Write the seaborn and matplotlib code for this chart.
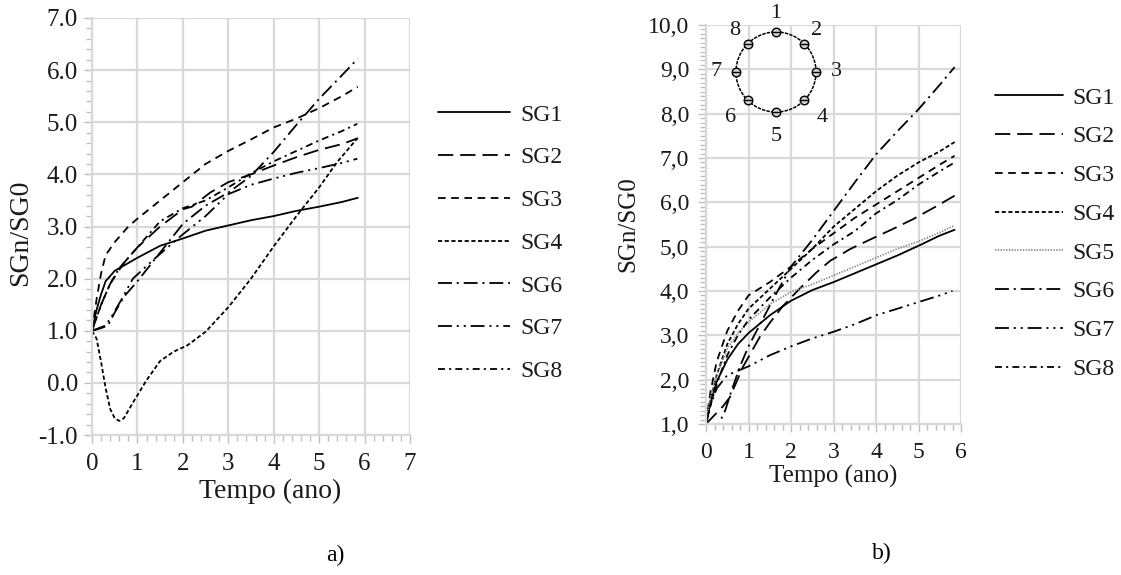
import numpy as np
import pandas as pd
import matplotlib
matplotlib.use("Agg")
import matplotlib.pyplot as plt
from matplotlib.ticker import MultipleLocator, FuncFormatter
import seaborn as sns

# ---------------- panel a) data ----------------
a_sg1_x = [0, 0.1, 0.2, 0.3, 0.5, 0.8, 1.0, 1.5, 2.0, 2.5, 3.0, 3.5, 4.0, 4.5, 5.0, 5.5, 5.85]
a_sg1_y = [1, 1.4, 1.7, 1.95, 2.15, 2.3, 2.4, 2.63, 2.77, 2.92, 3.02, 3.12, 3.2, 3.3, 3.38, 3.47, 3.55]
a_sg2_x = [0, 0.2, 0.4, 0.7, 1.0, 1.5, 2.0, 2.2, 2.6, 3.0, 3.5, 4.0, 4.5, 5.0, 5.5, 5.84]
a_sg2_y = [1, 1.5, 1.9, 2.3, 2.6, 3.0, 3.33, 3.38, 3.65, 3.85, 4.0, 4.17, 4.33, 4.47, 4.58, 4.69]
a_sg3_x = [0, 0.1, 0.2, 0.3, 0.5, 0.8, 1.0, 1.5, 2.0, 2.5, 3.0, 3.5, 4.0, 4.5, 5.0, 5.5, 5.85]
a_sg3_y = [1, 1.6, 2.1, 2.45, 2.7, 3.0, 3.15, 3.5, 3.85, 4.2, 4.45, 4.67, 4.9, 5.07, 5.27, 5.5, 5.68]
a_sg4_x = [0, 0.1, 0.2, 0.3, 0.4, 0.5, 0.6, 0.7, 0.9, 1.2, 1.5, 1.8, 2.1, 2.5, 3.0, 3.5, 4.0, 4.5, 5.0, 5.4, 5.85]
a_sg4_y = [1, 0.85, 0.4, -0.1, -0.5, -0.68, -0.73, -0.68, -0.38, 0.05, 0.42, 0.6, 0.72, 0.98, 1.45, 2.0, 2.62, 3.2, 3.75, 4.24, 4.7]
a_sg6_x = [0, 0.2, 0.35, 0.5, 0.7, 1.0, 1.5, 2.0, 2.5, 3.0, 3.5, 4.0, 4.5, 5.0, 5.5, 5.85]
a_sg6_y = [1, 1.05, 1.1, 1.35, 1.65, 1.95, 2.5, 3.05, 3.4, 3.65, 3.97, 4.43, 4.95, 5.45, 5.9, 6.22]
a_sg7_x = [0, 0.3, 0.45, 0.65, 0.9, 1.4, 2.0, 2.5, 3.0, 3.5, 4.0, 4.5, 5.0, 5.5, 5.84]
a_sg7_y = [1, 1.1, 1.3, 1.6, 2.0, 2.4, 2.85, 3.2, 3.62, 3.8, 3.92, 4.03, 4.12, 4.22, 4.30]
a_sg8_x = [0, 0.2, 0.4, 0.6, 1.0, 1.5, 2.0, 2.5, 3.0, 3.5, 4.0, 4.5, 5.0, 5.5, 5.84]
a_sg8_y = [1, 1.5, 1.9, 2.2, 2.6, 3.1, 3.35, 3.5, 3.75, 4.02, 4.25, 4.45, 4.65, 4.83, 4.97]

# ---------------- panel b) data ----------------
b_sg1_x = [0, 0.1, 0.25, 0.5, 0.75, 1.0, 1.5, 2.0, 2.5, 3.0, 3.5, 4.0, 4.5, 5.0, 5.5, 5.85]
b_sg1_y = [1, 1.45, 1.95, 2.45, 2.8, 3.05, 3.45, 3.78, 4.02, 4.2, 4.4, 4.6, 4.8, 5.02, 5.25, 5.38]
b_sg2_x = [0, 0.2, 0.4, 0.56, 0.87, 1.27, 1.5, 1.8, 2.2, 2.6, 2.92, 3.4, 3.86, 4.4, 4.87, 5.4, 5.85]
b_sg2_y = [1, 1.2, 1.4, 1.6, 2.29, 2.97, 3.28, 3.65, 4.05, 4.42, 4.68, 4.95, 5.16, 5.4, 5.62, 5.9, 6.15]
b_sg3_x = [0, 0.1, 0.25, 0.5, 0.75, 1.0, 1.5, 2.0, 2.5, 3.0, 3.5, 4.0, 4.5, 5.0, 5.5, 5.85]
b_sg3_y = [1, 1.7, 2.4, 3.1, 3.55, 3.9, 4.2, 4.55, 4.95, 5.3, 5.65, 5.95, 6.25, 6.55, 6.85, 7.05]
b_sg4_x = [0, 0.1, 0.25, 0.5, 0.75, 1.0, 1.5, 2.0, 2.5, 3.0, 3.5, 4.0, 4.5, 5.0, 5.5, 5.85]
b_sg4_y = [1, 1.5, 2.1, 2.8, 3.25, 3.6, 4.05, 4.5, 4.95, 5.45, 5.85, 6.25, 6.6, 6.9, 7.15, 7.36]
b_sg5_x = [0, 0.1, 0.25, 0.5, 0.75, 1.0, 1.5, 2.0, 2.5, 3.0, 3.5, 4.0, 4.5, 5.0, 5.5, 5.85]
b_sg5_y = [1, 1.6, 2.1, 2.7, 3.05, 3.3, 3.7, 3.98, 4.15, 4.35, 4.55, 4.75, 4.95, 5.12, 5.32, 5.48]
b_sg6_x = [0, 0.3, 0.45, 0.6, 0.8, 1.0, 1.3, 1.6, 2.0, 2.5, 3.0, 3.5, 4.0, 4.5, 5.0, 5.5, 5.85]
b_sg6_y = [1, 1.0, 1.3, 1.75, 2.3, 2.75, 3.3, 3.85, 4.55, 5.15, 5.8, 6.45, 7.08, 7.6, 8.1, 8.65, 9.05]
b_sg7_x = [0, 0.1, 0.25, 0.5, 0.75, 1.0, 1.5, 2.0, 2.5, 3.0, 3.5, 4.0, 4.5, 5.0, 5.5, 5.8]
b_sg7_y = [1, 1.4, 1.8, 2.1, 2.2, 2.3, 2.55, 2.75, 2.93, 3.08, 3.25, 3.45, 3.6, 3.75, 3.9, 4.0]
b_sg8_x = [0, 0.1, 0.25, 0.5, 0.75, 1.0, 1.5, 2.0, 2.5, 3.0, 3.5, 4.0, 4.5, 5.0, 5.5, 5.85]
b_sg8_y = [1, 1.4, 1.9, 2.55, 3.0, 3.35, 3.85, 4.3, 4.7, 5.05, 5.35, 5.75, 6.05, 6.4, 6.7, 6.9]

a_series = {"SG1": (a_sg1_x, a_sg1_y), "SG2": (a_sg2_x, a_sg2_y), "SG3": (a_sg3_x, a_sg3_y),
            "SG4": (a_sg4_x, a_sg4_y), "SG6": (a_sg6_x, a_sg6_y), "SG7": (a_sg7_x, a_sg7_y),
            "SG8": (a_sg8_x, a_sg8_y)}
b_series = {"SG1": (b_sg1_x, b_sg1_y), "SG2": (b_sg2_x, b_sg2_y), "SG3": (b_sg3_x, b_sg3_y),
            "SG4": (b_sg4_x, b_sg4_y), "SG5": (b_sg5_x, b_sg5_y), "SG6": (b_sg6_x, b_sg6_y),
            "SG7": (b_sg7_x, b_sg7_y), "SG8": (b_sg8_x, b_sg8_y)}

a_xticks = [0, 1, 2, 3, 4, 5, 6, 7]
a_yticks = [-1, 0, 1, 2, 3, 4, 5, 6, 7]
b_xticks = [0, 1, 2, 3, 4, 5, 6]
b_yticks = [1, 2, 3, 4, 5, 6, 7, 8, 9, 10]
sensor_labels = ["1", "2", "3", "4", "5", "6", "7", "8"]

# ---------------- styles ----------------
styles = {
    "SG1": ("black", "-"),
    "SG2": ("black", (0, (11, 5))),
    "SG3": ("black", (0, (5.5, 4))),
    "SG4": ("black", (0, (3, 1.8))),
    "SG5": ("#8c8c8c", (0, (1, 1))),
    "SG6": ("black", (0, (10, 3.5, 1.5, 3.5))),
    "SG7": ("black", (0, (10, 3.5, 1.5, 3.5, 1.5, 3.5))),
    "SG8": ("black", (0, (5, 3, 1.5, 3))),
}

sns.set_theme(style="white")
plt.rcParams["font.family"] = ["Liberation Serif", "DejaVu Serif"]
plt.rcParams["lines.scale_dashes"] = False

W, H = 1121, 575
fig = plt.figure(figsize=(W / 100, H / 100), dpi=100)
fig.patch.set_facecolor("white")

ax_a = fig.add_axes([92 / W, (H - 435) / H, 318 / W, 417 / H])
ax_b = fig.add_axes([706 / W, (H - 424) / H, 255 / W, 399 / H])

TXT = "#1a1a1a"
GRID = "#d9d9d9"


def draw(ax, series):
    for name, (xs, ys) in series.items():
        df = pd.DataFrame({"t": xs, "v": ys})
        col, ls = styles[name]
        sns.lineplot(data=df, x="t", y="v", ax=ax, color=col, linestyle=ls,
                     linewidth=1.3, label=name, errorbar=None)


def style_axes(ax, xt, yt, xlim, ylim, yfmt, ymin, xpad, ypad, fs):
    ax.set_xlim(*xlim)
    ax.set_ylim(*ylim)
    ax.set_xticks(xt)
    ax.set_yticks(yt)
    ax.xaxis.set_minor_locator(MultipleLocator(0.2))
    ax.yaxis.set_minor_locator(MultipleLocator(ymin))
    ax.yaxis.set_major_formatter(FuncFormatter(yfmt))
    ax.grid(True, which="major", color=GRID, linewidth=1.6)
    ax.set_axisbelow(True)
    for s in ["top", "right"]:
        ax.spines[s].set_visible(False)
    for s in ["left", "bottom"]:
        ax.spines[s].set_color(GRID)
        ax.spines[s].set_linewidth(1.6)
    ax.tick_params(which="both", direction="out", color="#bfbfbf", width=1,
                   labelcolor=TXT, labelsize=fs, bottom=True, left=True)
    ax.tick_params(which="major", length=6)
    ax.tick_params(which="minor", length=4)
    ax.tick_params(axis="x", which="major", pad=xpad)
    ax.tick_params(axis="y", which="major", pad=ypad)
    ax.set_facecolor("white")


draw(ax_a, a_series)
draw(ax_b, b_series)

style_axes(ax_a, a_xticks, a_yticks, (0, 7), (-1, 7),
           lambda v, p: f"{v:.1f}", 0.2, 7, 4, 18)
style_axes(ax_b, b_xticks, b_yticks, (0, 6), (1, 10),
           lambda v, p: f"{v:.1f}".replace(".", ","), 0.1, 7, 6, 17)

for ax, fs, xy_x, xy_y in [(ax_a, 20, (0.56, -0.106), (-0.185, 0.485)),
                           (ax_b, 18, (0.50, -0.103), (-0.26, 0.50))]:
    ax.set_xlabel("Tempo (ano)", fontsize=fs, color=TXT)
    ax.set_ylabel("SGn/SG0", fontsize=fs, color=TXT)
    ax.xaxis.set_label_coords(*xy_x)
    ax.yaxis.set_label_coords(*xy_y)

# legends
leg_a = ax_a.legend(loc="upper left", bbox_to_anchor=(438 / W, 1 - 104 / H),
                    bbox_transform=fig.transFigure, frameon=False, fontsize=17,
                    handlelength=3.05, handletextpad=0.42, labelspacing=0.9,
                    borderpad=0, borderaxespad=0)
leg_b = ax_b.legend(loc="upper left", bbox_to_anchor=(995 / W, 1 - 87 / H),
                    bbox_transform=fig.transFigure, frameon=False, fontsize=17,
                    handlelength=2.88, handletextpad=0.4, labelspacing=0.73,
                    borderpad=0, borderaxespad=0)
for leg in (leg_a, leg_b):
    for t in leg.get_texts():
        t.set_color(TXT)

# inset diagram of sensor positions
ins = fig.add_axes([706 / W, (H - 150) / H, 134 / W, 145 / H])
ins.set_xlim(-1.75, 1.6)
ins.set_ylim(-1.95, 1.675)
ins.axis("off")
ins.patch.set_alpha(0)
theta = np.linspace(0, 2 * np.pi, 300)
ins.plot(np.cos(theta), np.sin(theta), color="black", lw=1.1, ls=(0, (2.5, 0.8)))
ang = np.deg2rad(90 - 45 * np.arange(8))
ins.scatter(np.cos(ang), np.sin(ang), marker="o", s=38, facecolor="#d0d0d0",
            edgecolor="black", linewidth=1, zorder=3)
ins.scatter(np.cos(ang), np.sin(ang), marker="_", s=38, color="black",
            linewidth=1, zorder=4)
for lab, a in zip(sensor_labels, ang):
    r = 1.45 if np.sin(a) > 0.1 else (1.5 if abs(np.sin(a)) <= 0.1 else 1.62)
    ins.text(r * np.cos(a), r * np.sin(a), lab, ha="center", va="center",
             fontsize=16, color=TXT)

fig.text(335 / W, 1 - 555 / H, "a)", ha="center", va="center", fontsize=17, color="black")
fig.text(882 / W, 1 - 553 / H, "b)", ha="center", va="center", fontsize=17, color="black")

fig.savefig("out.png", dpi=100, facecolor="white")
